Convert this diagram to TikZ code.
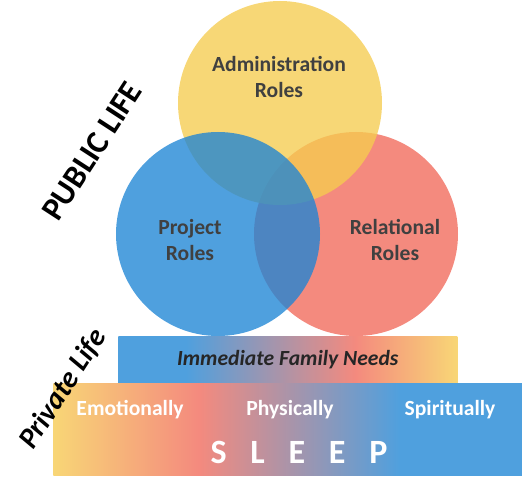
\documentclass[tikz,border=0pt]{standalone}
\usepackage{fontspec}
\setmainfont{Carlito}
\usetikzlibrary{positioning}

% colours
\definecolor{roleYellow}{RGB}{245,204,80}
\definecolor{roleRed}{RGB}{241,105,90}
\definecolor{roleBlue}{RGB}{30,133,213}
\definecolor{barYellow}{RGB}{248,214,118}
\definecolor{barRed}{RGB}{244,138,126}
\definecolor{barBlue}{RGB}{79,160,222}

% shadings (visible part runs from 25bp to 75bp)
\pgfdeclarehorizontalshading{familyShade}{100bp}{color(0bp)=(barBlue); color(35bp)=(barBlue); color(60bp)=(barRed); color(75bp)=(barYellow); color(100bp)=(barYellow)}
\pgfdeclarehorizontalshading{sleepShade}{100bp}{color(0bp)=(barYellow); color(25bp)=(barYellow); color(40.5bp)=(barRed); color(62bp)=(barBlue); color(100bp)=(barBlue)}

\begin{document}
\begin{tikzpicture}[
        x=0.75pt, y=-0.75pt,
        font=\fontsize{16.2}{19.5}\selectfont\bfseries,
        % styles
        baseCircle/.style={circle, draw=none, inner sep=0pt, minimum size=153pt, fill opacity=0.78},
        % role circles
        circAdmin/.style={baseCircle, fill=roleYellow},
        circProj/.style={baseCircle, fill=roleBlue},
        circRel/.style={baseCircle, fill=roleRed},
        % bars
        barBase/.style={rectangle, draw=none, inner sep=0pt, anchor=north west},
        familyBar/.style={barBase, shading=familyShade, minimum width=254.25pt, minimum height=35.25pt},
        sleepBar/.style={barBase, shading=sleepShade, minimum width=351.75pt, minimum height=69pt},
        % label styles
        roleLbl/.style={text=black!75, align=center},
        lifeLbl/.style={text=black, rotate=57},
        needLbl/.style={text=white, anchor=base}
    ]

    \useasboundingbox (0,0) rectangle (522,495);

    % circles
    \node [circRel] (relational) at (356,234) {};
    \node [circAdmin] (admin) at (280,103) {};
    \node [circProj] (project) at (218,234) {};

    \node [roleLbl] (adminLbl) at (279,77) {Administration\\Roles};
    \node [roleLbl] (projLbl) at (190,240) {Project\\Roles};
    \node [roleLbl] (relLbl) at (395,240) {Relational\\Roles};

    % bars
    \node [familyBar, text=black!85] (family) at (118,336) {\itshape Immediate Family Needs};
    \node [sleepBar] (sleep) at (53,383) {};

    \node [needLbl] (emoLbl) at (130,416) {Emotionally};
    \node [needLbl] (physLbl) at (290,416) {Physically};
    \node [needLbl] (spirLbl) at (450,416) {Spiritually};
    \node [needLbl, font=\fontsize{25.5}{30}\selectfont\bfseries] (sleepLbl) at (299,464)
        {S\hspace{0.7em}L\hspace{0.7em}E\hspace{0.7em}E\hspace{0.7em}P};

    % side labels
    \node [lifeLbl, font=\fontsize{24.4}{29}\selectfont\bfseries] (publicLbl) at (92,151) {PUBLIC LIFE};
    \node [lifeLbl, font=\fontsize{22}{26}\selectfont\bfseries\itshape] (privateLbl) at (63,389) {Private Life};

\end{tikzpicture}
\end{document}
